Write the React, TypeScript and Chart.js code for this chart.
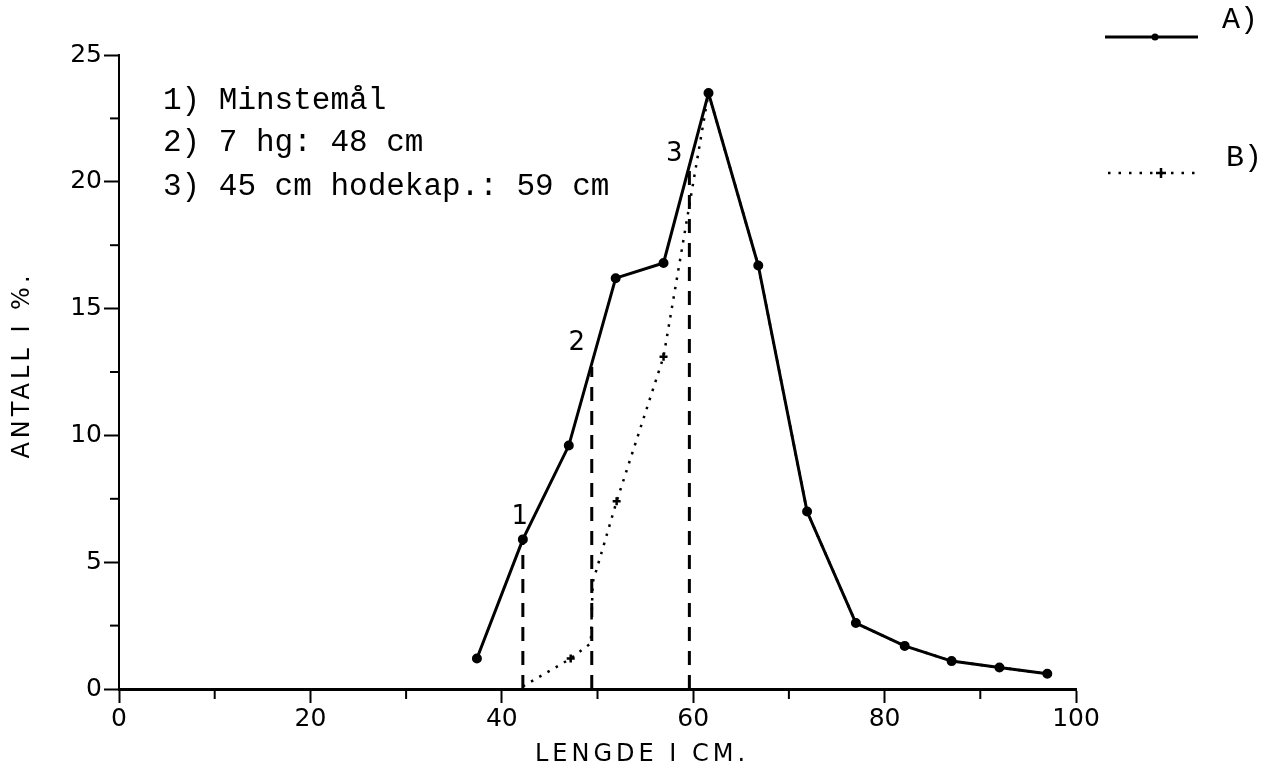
import React, { useEffect, useRef } from "react";
import { Chart, registerables } from "chart.js";

Chart.register(...registerables);

// Series A (solid, dots)
const lengthsA = [37.4, 42.2, 47.0, 51.9, 56.9, 61.6, 66.8, 71.9, 77.0, 82.1, 87.0, 92.0, 97.0];
const valuesA = [1.2, 5.9, 9.6, 16.2, 16.8, 23.5, 16.7, 7.0, 2.6, 1.7, 1.1, 0.85, 0.6];

// Series B (dotted, crosses)
const lengthsB = [42.2, 47.2, 49.3, 49.5, 52.0, 56.9, 61.6, 66.8, 71.9, 77.0, 82.1, 87.0, 92.0, 97.0];
const valuesB = [0.1, 1.2, 1.8, 4.2, 7.4, 13.1, 23.5, 16.7, 7.0, 2.6, 1.7, 1.1, 0.85, 0.6];
const markersB = [0, 4, 0, 0, 4, 4, 0, 4, 4, 4, 4, 4, 4, 4];

// Vertical guide lines 1), 2), 3)
const guideX = [42.2, 49.4, 59.6];
const guideTop = [5.9, 12.7, 20.5];
const guideLabels = ["1", "2", "3"];

const notes = ["1) Minstemål", "2) 7 hg: 48 cm", "3) 45 cm hodekap.: 59 cm"];
const xTitle = "LENGDE I CM.";
const yTitle = "ANTALL I %.";
const legendLabels = ["A)", "B)"];

const X_MIN = 0, X_MAX = 100, Y_MIN = 0, Y_MAX = 25;

export default function App() {
  const ref = useRef<HTMLCanvasElement | null>(null);

  useEffect(() => {
    const canvas = ref.current;
    if (!canvas) return;

    const guideSets = guideX.map((gx, i) => ({
      label: "guide" + guideLabels[i],
      data: [{ x: gx, y: 0 }, { x: gx, y: guideTop[i] }],
      borderColor: "#000",
      borderWidth: 3,
      borderDash: [14, 10],
      pointRadius: 0,
      showLine: true,
      fill: false,
    }));

    const overlay = {
      id: "overlay",
      afterDraw(chart: any) {
        const { ctx } = chart;
        const x = chart.scales.x;
        const y = chart.scales.y;
        ctx.save();
        ctx.strokeStyle = "#000";
        ctx.fillStyle = "#000";
        // minor ticks
        ctx.lineWidth = 2;
        for (let v = 10; v < 100; v += 20) {
          const px = x.getPixelForValue(v);
          ctx.beginPath();
          ctx.moveTo(px, y.bottom);
          ctx.lineTo(px, y.bottom + 10);
          ctx.stroke();
        }
        for (let v = 2.5; v < 25; v += 5) {
          const py = y.getPixelForValue(v);
          ctx.beginPath();
          ctx.moveTo(x.left - 9, py);
          ctx.lineTo(x.left, py);
          ctx.stroke();
        }
        // axis titles
        ctx.font = '24px "DejaVu Sans"';
        (ctx as any).letterSpacing = "4px";
        ctx.textAlign = "center";
        ctx.textBaseline = "middle";
        ctx.fillText(xTitle, 642, 755);
        ctx.save();
        ctx.translate(23, 365);
        ctx.rotate(-Math.PI / 2);
        ctx.fillText(yTitle, 0, 0);
        ctx.restore();
        (ctx as any).letterSpacing = "0px";

        // notes
        ctx.font = '31px "Liberation Mono"';
        ctx.textAlign = "left";
        ctx.textBaseline = "alphabetic";
        const noteY = [109, 151, 195];
        notes.forEach((t, i) => ctx.fillText(t, 163, noteY[i]));

        // guide numbers
        ctx.font = '26px "DejaVu Sans"';
        ctx.textAlign = "center";
        ctx.textBaseline = "middle";
        const offs = [[-3, -22], [-15, -24], [-15, -15]];
        guideX.forEach((gx, i) => {
          const px = x.getPixelForValue(gx);
          const py = y.getPixelForValue(guideTop[i]);
          ctx.fillText(guideLabels[i], px + offs[i][0], py + offs[i][1]);
        });

        // legend
        ctx.lineWidth = 3;
        ctx.beginPath();
        ctx.moveTo(1105, 37);
        ctx.lineTo(1198, 37);
        ctx.stroke();
        ctx.beginPath();
        ctx.arc(1155, 37, 3.5, 0, Math.PI * 2);
        ctx.fill();
        ctx.lineWidth = 2.5;
        ctx.setLineDash([2.5, 8]);
        ctx.beginPath();
        ctx.moveTo(1108, 173);
        ctx.lineTo(1198, 173);
        ctx.stroke();
        ctx.setLineDash([]);
        ctx.beginPath();
        ctx.moveTo(1156, 173);
        ctx.lineTo(1166, 173);
        ctx.moveTo(1161, 168);
        ctx.lineTo(1161, 178);
        ctx.stroke();
        ctx.font = '30px "Liberation Mono"';
        ctx.textAlign = "left";
        ctx.fillText(legendLabels[0], 1222, 20);
        ctx.fillText(legendLabels[1], 1226, 158);
        ctx.restore();
      },
    };

    const chart = new Chart(canvas, {
      type: "scatter",
      data: {
        datasets: [
          {
            label: "A",
            data: lengthsA.map((v, i) => ({ x: v, y: valuesA[i] })),
            borderColor: "#000",
            backgroundColor: "#000",
            borderWidth: 3,
            pointRadius: 3.5,
            pointStyle: "circle",
            showLine: true,
            fill: false,
            order: 0,
          } as any,
          {
            label: "B",
            data: lengthsB.map((v, i) => ({ x: v, y: valuesB[i] })),
            borderColor: "#000",
            backgroundColor: "#000",
            borderWidth: 2.5,
            borderDash: [2.5, 7],
            pointRadius: markersB,
            pointStyle: "cross",
            pointBorderWidth: 2.5,
            showLine: true,
            fill: false,
            order: 1,
          } as any,
          ...guideSets,
        ],
      },
      options: {
        animation: false,
        responsive: false,
        maintainAspectRatio: false,
        layout: { padding: { left: 0, top: 55, right: 1275 - 1076, bottom: 0 } },
        plugins: { legend: { display: false }, tooltip: { enabled: false } },
        scales: {
          x: {
            type: "linear",
            min: X_MIN,
            max: X_MAX,
            afterFit(scale: any) {
              scale.height = 775 - 689;
            },
            ticks: {
              stepSize: 10,
              autoSkip: false,
              maxRotation: 0,
              padding: 1,
              color: "#000",
              font: { family: "DejaVu Sans", size: 25 },
              callback: (v: any) => (Number(v) % 20 === 0 ? String(v) : ""),
            },
            grid: {
              drawOnChartArea: false,
              drawTicks: true,
              tickLength: 14,
              tickWidth: 2,
              tickColor: (c: any) => (c.tick && c.tick.value % 20 === 0 ? "#000" : "rgba(0,0,0,0)"),
            },
            border: { display: true, color: "#000", width: 3 },
          },
          y: {
            type: "linear",
            min: Y_MIN,
            max: Y_MAX,
            afterFit(scale: any) {
              scale.width = 119;
            },
            ticks: {
              stepSize: 2.5,
              autoSkip: false,
              padding: 2,
              color: "#000",
              font: { family: "DejaVu Sans", size: 25 },
              callback: (v: any) => (Number(v) % 5 === 0 ? String(v) : ""),
            },
            grid: {
              drawOnChartArea: false,
              drawTicks: true,
              tickLength: 15,
              tickWidth: 2,
              tickColor: (c: any) => (c.tick && c.tick.value % 5 === 0 ? "#000" : "rgba(0,0,0,0)"),
            },
            border: { display: true, color: "#000", width: 2 },
          },
        },
      },
      plugins: [overlay],
    } as any);

    return () => chart.destroy();
  }, []);

  return (
    <div style={{ position: "absolute", left: 0, top: 0, width: 1275, height: 775, background: "#fff" }}>
      <canvas ref={ref} width={1275} height={775} style={{ display: "block", width: 1275, height: 775 }} />
    </div>
  );
}
